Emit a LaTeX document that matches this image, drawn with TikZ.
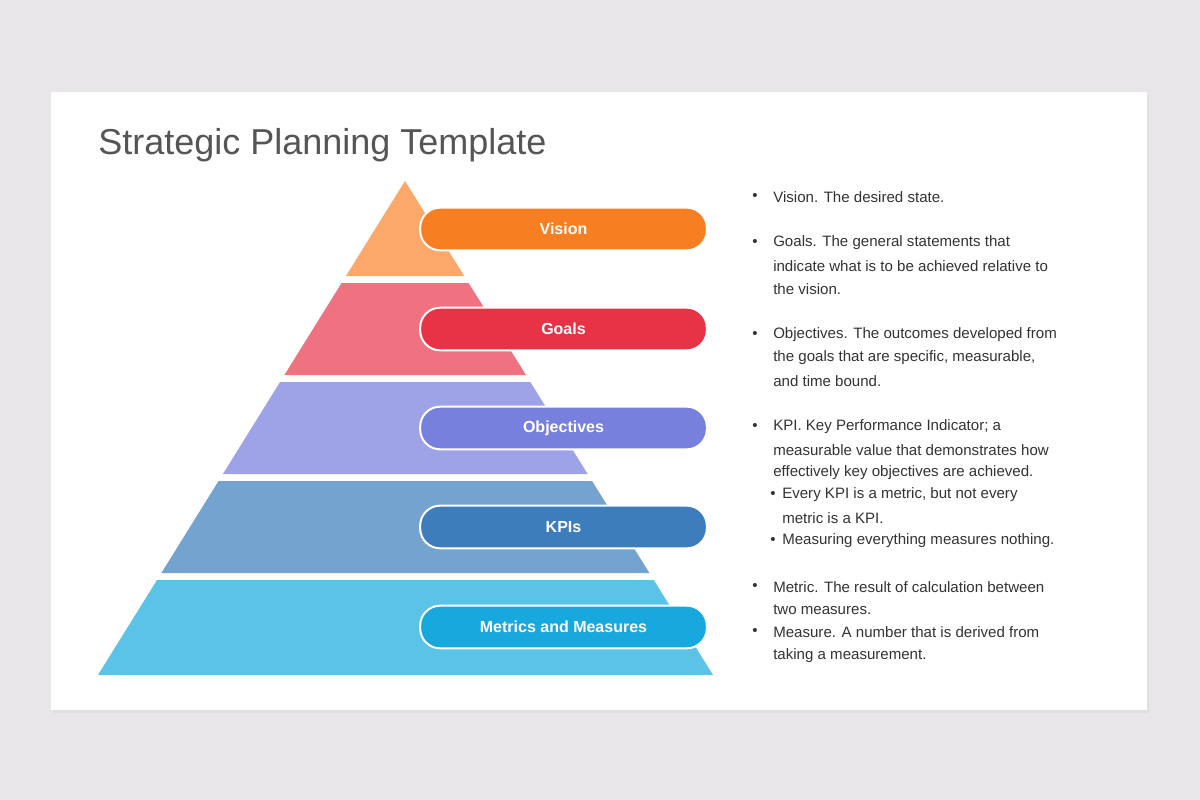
\documentclass[tikz,border=0pt]{standalone}
\usepackage{fontspec}
\setmainfont{Liberation Sans}
\usetikzlibrary{shadows}
\definecolor{bg}{HTML}{E8E6E8}
\definecolor{tgray}{HTML}{555555}
\definecolor{txt}{HTML}{333333}
\definecolor{l1}{HTML}{FBA86A}\definecolor{p1}{HTML}{F77F22}
\definecolor{l2}{HTML}{F07280}\definecolor{p2}{HTML}{E83346}
\definecolor{l3}{HTML}{9DA3E6}\definecolor{p3}{HTML}{7880DE}
\definecolor{l4}{HTML}{75A3CF}\definecolor{p4}{HTML}{3D7DBB}
\definecolor{l5}{HTML}{5BC3E8}\definecolor{p5}{HTML}{17A9DE}
\begin{document}
\begin{tikzpicture}[x=0.75pt,y=-0.75pt,
  pill/.style={draw=white,line width=1.5pt,rounded corners=15pt,minimum width=215pt,minimum height=32pt,text=white,font=\bfseries\fontsize{12}{14}\selectfont,inner sep=0pt},
  line/.style={anchor=west,text=txt,font=\fontsize{11.3}{13}\selectfont,inner sep=0pt},
  bul/.style={text=txt,font=\fontsize{11.3}{13}\selectfont,inner sep=0pt}]
\fill[bg] (0,0) rectangle (1200,800);
\useasboundingbox (0,0) rectangle (1200,800);
\fill[black!12] (53,95) rectangle (1149,713);
\fill[white] (51,92) rectangle (1147,710);
\node[anchor=base west,text=tgray,font=\fontsize{27}{30}\selectfont,inner sep=0pt] (title) at (98,154) {Strategic Planning Template};
\def\L#1{405-0.6215*(#1-181)}\def\R#1{405+0.6235*(#1-181)}
\foreach \t/\b/\c in {181/276/l1,283/375/l2,382/474/l3,481/573/l4,580/675/l5}{
  \fill[\c] ({\L{\t}},\t) -- ({\R{\t}},\t) -- ({\R{\b}},\b) -- ({\L{\b}},\b) -- cycle;}
\node[pill,fill=p1] (v) at (563.5,229) {Vision};
\node[pill,fill=p2] (g) at (563.5,329) {Goals};
\node[pill,fill=p3] (o) at (563.5,428) {Objectives};
\node[pill,fill=p4] (k) at (563.5,527) {KPIs};
\node[pill,fill=p5] (m) at (563.5,627) {Metrics and Measures};
\foreach \y in {197,243,335,427,587,632}{\node[bul] at (755,\y) {•};}
\foreach \y in {495,541}{\node[bul] at (773,\y) {•};}
\foreach \y/\s in {197/{Vision. The desired state.},
 243/{Goals. The general statements that},266/{indicate what is to be achieved relative to},289/{the vision.},
 335/{Objectives. The outcomes developed from},358/{the goals that are specific, measurable,},381/{and time bound.},
 427/{KPI. Key Performance Indicator; a},450/{measurable value that demonstrates how},473/{effectively key objectives are achieved.},
 587/{Metric. The result of calculation between},610/{two measures.},
 632/{Measure. A number that is derived from},656/{taking a measurement.}}{\node[line] at (773,\y) {\s};}
\foreach \y/\s in {495/{Every KPI is a metric, but not every},518/{metric is a KPI.},541/{Measuring everything measures nothing.}}{\node[line] at (782,\y) {\s};}
\end{tikzpicture}
\end{document}
